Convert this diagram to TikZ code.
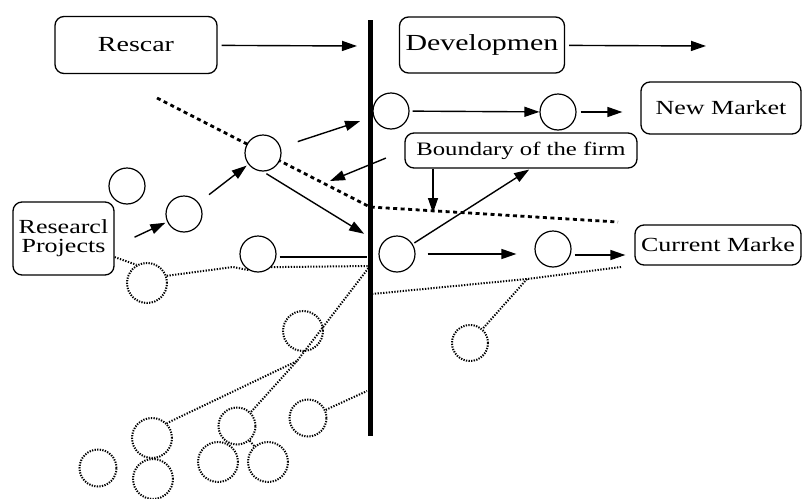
\documentclass[tikz,border=0pt]{standalone}
\usepackage{fontspec}
\setmainfont{Liberation Serif}[FakeStretch=1.3]
\usetikzlibrary{arrows.meta,positioning,calc}

\begin{document}
\begin{tikzpicture}[x=1pt,y=-1pt,
	box/.style={draw,rounded corners=9pt,line width=1.3pt,inner sep=2pt},
	ball/.style={draw,circle,fill=white,line width=1.2pt,inner sep=0pt,minimum size=36pt},
	ghost/.style={draw,circle,line width=2pt,dash pattern=on 1.3pt off 1.3pt,inner sep=0pt,minimum size=40pt},
	speck/.style={line width=2pt,dash pattern=on 1.3pt off 1.5pt},
	flow/.style={line width=1.4pt,-{Triangle[length=15pt,width=10pt]}},
	border/.style={line width=2.8pt,dash pattern=on 4pt off 3.5pt}]
	\useasboundingbox (0,0) rectangle (803,498);

	\coordinate (vtop) at (370,20);
	\coordinate (vbot) at (370,436);
	\coordinate (hub)  at (370,266);
	\coordinate (rs)   at (372,294);
	\coordinate (knot) at (297,361);
	\coordinate (fork) at (527,279);
	\coordinate (tail) at (621,267);
	\coordinate (side) at (367,391);
	\coordinate (bend) at (233,267);

	% ghost part below
	\node[ghost] (sa) at (147,283) {};
	\node[ghost] (sb) at (303,331) {};
	\node[ghost] (sc) at (152,438) {};
	\node[ghost,minimum size=37pt] (sd) at (98,468) {};
	\node[ghost] (se) at (153,479) {};
	\node[ghost,minimum size=37pt] (sf) at (237,426) {};
	\node[ghost] (sg) at (218,462) {};
	\node[ghost] (sh) at (268,462) {};
	\node[ghost,minimum size=37pt] (si) at (308,418) {};
	\node[ghost,minimum size=36pt] (sj) at (470,343) {};

	\draw[speck] (hub) -- (knot) -- (sc.north east);
	\draw[speck] (knot) -- (sf.north east);
	\draw[speck] (sf) -- (sg);
	\draw[speck] (sf) -- (sh);
	\draw[speck] (si) -- (side);
	\draw[speck] (rs) -- (fork) -- (tail);
	\draw[speck] (fork) -- (sj);

	\draw[border] (157,98) -- (370,207) -- (618,222);
	\draw[line width=5pt] (vtop) -- (vbot);

	\node[box,minimum width=162pt,minimum height=57pt,font=\fontsize{21.5}{24}\selectfont] (rescar) at (136,45) {Rescar};
	\node[box,minimum width=165pt,minimum height=56pt,font=\fontsize{23}{26}\selectfont] (devel) at (482,45) {Developmen};
	\node[box,minimum width=160pt,minimum height=52pt,font=\fontsize{20}{23}\selectfont] (newmkt) at (721,108) {New Market};
	\node[box,minimum width=232pt,minimum height=35pt,font=\fontsize{19}{22}\selectfont] (bound) at (521,150.5) {Boundary of the firm};
	\node[box,minimum width=101pt,minimum height=73pt,align=center,font=\fontsize{20}{19}\selectfont] (resproj) at (63.5,238.5) {Researcl\\Projects};
	\node[box,minimum width=166pt,minimum height=40pt,font=\fontsize{20}{23}\selectfont] (curmkt) at (718,245) {Current Marke};

	\node[ball] (ca) at (263,153) {};
	\node[ball] (cb) at (127,186) {};
	\node[ball] (cc) at (184,214) {};
	\node[ball] (cd) at (391,111) {};
	\node[ball] (ce) at (558,112) {};
	\node[ball] (cf) at (258,254) {};
	\node[ball] (cg) at (397,254) {};
	\node[ball] (ch) at (553,249) {};

	\draw[speck] (resproj.-20) -- (sa.120);
	\draw[speck] (sa.20) -- (bend) -- (cf.-120);
	\draw[speck] (cf.-45) -- (hub);

	\coordinate (rtip) at (357,46);
	\coordinate (dtip) at (706,46);
	\coordinate (ltip) at (330,181);
	\coordinate (drop) at (433,213);
	\coordinate (btip) at (530,169);
	\coordinate (ctip) at (367,257);

	\draw[flow,shorten <=4pt] (rescar) -- (rtip);
	\draw[flow,shorten <=4pt] (devel) -- (dtip);
	\draw[flow,shorten <=18pt,shorten >=14pt] (ca) -- (cd);
	\draw[flow,shorten <=3pt] (cd) -- (ce);
	\draw[flow,shorten <=4pt,shorten >=18pt] (ce.east) -- (ce.east -| newmkt.west);
	\draw[flow] (bound.south -| drop) -- (drop);
	\draw[flow,shorten <=20pt] (bound.west) -- (ltip);
	\draw[flow,shorten <=13pt,shorten >=2pt] (cc) -- (ca);
	\draw[flow,shorten <=22pt,shorten >=2pt] ($(resproj.east)+(0,8)$) -- (cc);
	\draw[flow,shorten <=4pt,shorten >=20pt] (ca.south) -- (cg);
	\draw[flow,shorten <=2pt,shorten >=1pt] (cg) -- (btip);
	\draw[line width=2.2pt,shorten <=3pt] (cf.east |- ctip) -- (ctip);
	\draw[flow,shorten <=12pt,shorten >=18pt] (cg.east) -- (cg.east -| ch.west);
	\draw[flow,shorten <=3pt,shorten >=9pt] ($(ch.east)+(0,6)$) -- ($(curmkt.west)+(0,10)$);
\end{tikzpicture}
\end{document}
